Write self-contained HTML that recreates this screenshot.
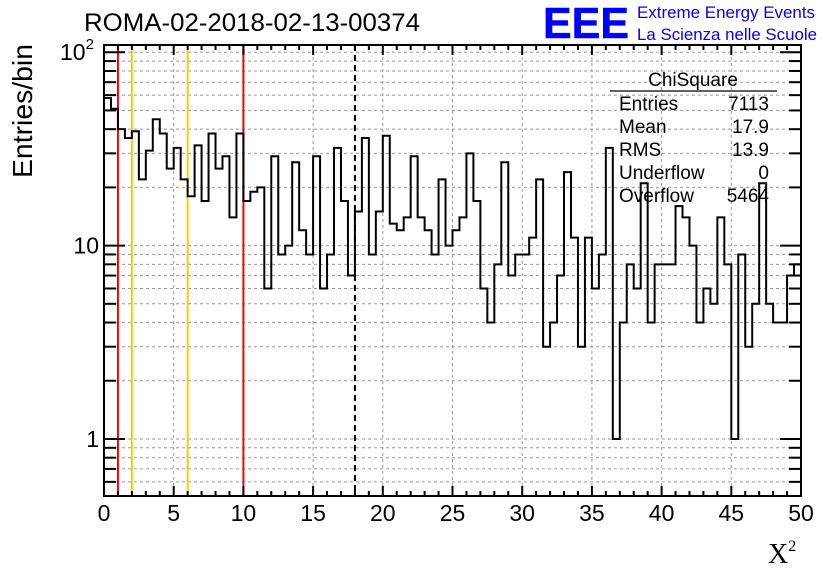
<!DOCTYPE html>
<html><head><meta charset="utf-8"><style>
body{margin:0;background:#fff;}
svg{display:block;font-family:"Liberation Sans",sans-serif;}
</style></head><body>
<svg id="c" width="836" height="572" viewBox="0 0 836 572">
<rect width="836" height="572" fill="#fff"/>
<text x="84" y="31" font-size="25" textLength="336" lengthAdjust="spacingAndGlyphs">ROMA-02-2018-02-13-00374</text>
<text x="543" y="38" font-size="44" font-weight="bold" fill="#0000ff" stroke="#0000ff" stroke-width="0.5" textLength="86" lengthAdjust="spacingAndGlyphs">EEE</text>
<text x="637" y="18" font-size="17" fill="#0000ff" textLength="178" lengthAdjust="spacingAndGlyphs">Extreme Energy Events</text>
<text x="637" y="40" font-size="17" fill="#0000ff" textLength="180" lengthAdjust="spacingAndGlyphs">La Scienza nelle Scuole</text>
<text transform="translate(32,178) rotate(-90)" font-size="28" textLength="134" lengthAdjust="spacingAndGlyphs">Entries/bin</text>
<text x="768" y="563" font-size="28" font-family="Liberation Serif,serif">X<tspan font-size="16" dy="-12">2</tspan></text>
<g id="grid"></g>
<g id="vlines"></g>
<path id="hist" fill="none" stroke="#000" stroke-width="2"/>
<g id="axes"></g>
<g font-size="19">
<line x1="610" y1="91" x2="777" y2="91" stroke="#000" stroke-width="1.2"/>
<text x="693" y="86" text-anchor="middle">ChiSquare</text>
<text x="619" y="110">Entries</text><text x="769" y="110" text-anchor="end">7113</text>
<text x="619" y="133">Mean</text><text x="769" y="133" text-anchor="end">17.9</text>
<text x="619" y="156">RMS</text><text x="769" y="156" text-anchor="end">13.9</text>
<text x="619" y="179">Underflow</text><text x="769" y="179" text-anchor="end">0</text>
<text x="619" y="202">Overflow</text><text x="769" y="202" text-anchor="end">5464</text>
</g>
</svg>
<script>
const binWidth = 0.5;
const counts = [58,51,40,36,39,22,31,45,38,25,32,22,18,33,17,38,25,29,14,38,
17,19,20,6,29,9,10,27,12,9,29,6,9,32,17,7,15,36,9,15,
37,13,12,14,29,14,12,9,22,10,12,14,30,17,6,4,8,27,7,9,
9,11,22,3,4,7,24,11,3,11,6,9,32,1,4,8,6,21,4,8,
8,8,16,14,10,4,6,5,14,8,1,9,3,5,21,5,4,4,7,8];
const xTicks = [0,5,10,15,20,25,30,35,40,45,50];
const cutRed = [1,10];
const cutOrange = [2,6];
const cutMean = [18];

const NS="http://www.w3.org/2000/svg";
const X0=104,X1=801,Y0=45,Y1=496,XMIN=0,XMAX=50,YMIN=0.507,YMAX=109;
const xs=v=>X0+(v-XMIN)/(XMAX-XMIN)*(X1-X0);
const ys=v=>Y1-(Math.log10(v)-Math.log10(YMIN))/(Math.log10(YMAX)-Math.log10(YMIN))*(Y1-Y0);
function mk(tag,attrs,parent){const e=document.createElementNS(NS,tag);for(const k in attrs)e.setAttribute(k,attrs[k]);parent.appendChild(e);return e;}
const grid=document.getElementById('grid'),axes=document.getElementById('axes'),vl=document.getElementById('vlines');
for(const t of xTicks){ if(t>XMIN&&t<XMAX){const g=mk('line',{x1:xs(t),x2:xs(t),y1:Y0,y2:Y1,stroke:'#999','stroke-dasharray':'3,3'},grid);

}}
const yVals=[0.6,0.7,0.8,0.9];for(const d of [1,10])for(let m=1;m<10;m++)yVals.push(d*m);yVals.push(100);
for(const v of yVals){const y=ys(v);if(y<=Y0||y>=Y1)continue;
const g=mk('line',{x1:X0,x2:X1,y1:y,y2:y,stroke:'#999','stroke-dasharray':'3,3'},grid);


const major=(v===1||v===10||v===100);const L=major?21:12;
mk('line',{x1:X0,x2:X0+L,y1:y,y2:y,stroke:'#000','stroke-width':2},axes);
mk('line',{x1:X1,x2:X1-L,y1:y,y2:y,stroke:'#000','stroke-width':2},axes);}
function vline(v,col,dash,name){const l=mk('line',{x1:xs(v),x2:xs(v),y1:Y0,y2:Y1,stroke:col,'stroke-width':2},vl);if(dash)l.setAttribute('stroke-dasharray',dash);

}
cutRed.forEach(v=>vline(v,'#ff0000',null,'red-cut-line'));
cutOrange.forEach(v=>vline(v,'#ffcc00',null,'orange-cut-line'));
cutMean.forEach(v=>vline(v,'#000',"6,4",'mean-line'));
let d='';counts.forEach((c,i)=>{const xa=xs(i*binWidth),xb=xs((i+1)*binWidth);const y=Math.min(ys(Math.max(c,YMIN)),Y1);
d+=(i===0?'M'+xa+','+y:'L'+xa+','+y)+' L'+xb+','+y;});
document.getElementById('hist').setAttribute('d',d);
for(let v=XMIN;v<=XMAX;v+=1){const x=xs(v);const L=(v%5===0)?10:5;
mk('line',{x1:x,x2:x,y1:Y1,y2:Y1-L,stroke:'#000','stroke-width':2},axes);
mk('line',{x1:x,x2:x,y1:Y0,y2:Y0+L,stroke:'#000','stroke-width':2},axes);}
for(const t of xTicks){const tx=mk('text',{x:xs(t),y:521,'font-size':23,'text-anchor':'middle'},axes);tx.textContent=t;

}
const yl=[[1,'1'],[10,'10']];
for(const [v,s] of yl){const t=mk('text',{x:X0-5,y:ys(v)+8,'font-size':23,'text-anchor':'end'},axes);t.textContent=s;

}
const t2=mk('text',{x:60,y:ys(100)+8,'font-size':23},axes);t2.innerHTML='10<tspan font-size="15" dy="-11">2</tspan>';


const fr=mk('rect',{x:X0,y:Y0,width:X1-X0,height:Y1-Y0,fill:'none',stroke:'#000','stroke-width':2},axes);


</script>
</body></html>
